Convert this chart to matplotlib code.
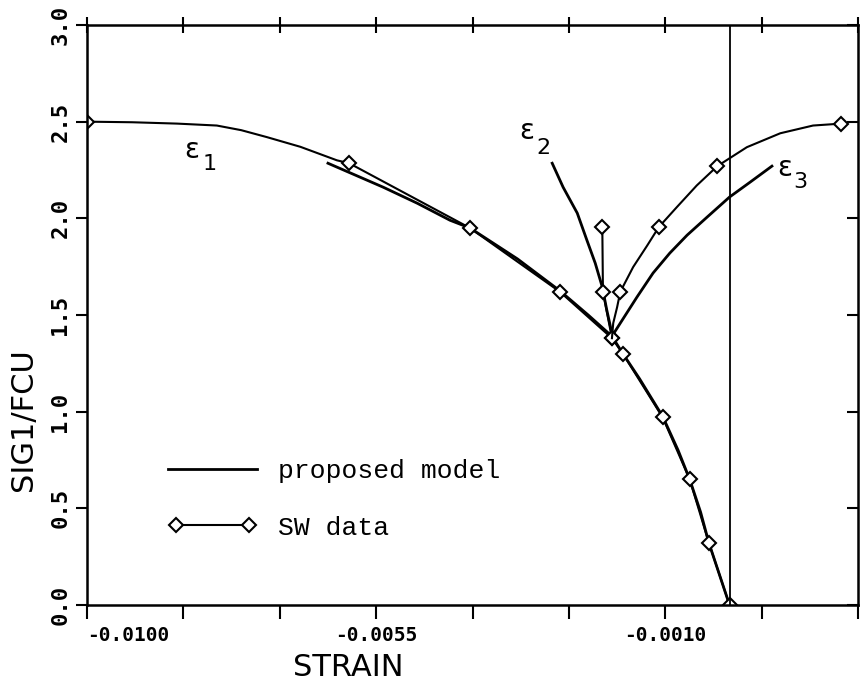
import matplotlib.pyplot as plt
from matplotlib.lines import Line2D
from matplotlib.legend_handler import HandlerLine2D

# SW test data, eps1 branch (curve points; diamonds at sw1_marks)
sw1_strain = [-0.0100, -0.00930, -0.00860, -0.00798, -0.00760, -0.00720, -0.00668,
              -0.00611, -0.00592, -0.00404, -0.00264, -0.00183, -0.00166,
              -0.00104, -0.00062, -0.00032, 0.0]
sw1_sig = [2.50, 2.497, 2.49, 2.48, 2.456, 2.42, 2.37,
           2.30, 2.285, 1.95, 1.62, 1.38, 1.30,
           0.97, 0.65, 0.32, 0.0]
sw1_marks = [0, 8, 9, 10, 11, 12, 13, 14, 15, 16]

# SW eps2 branch
sw2_strain = [-0.00183, -0.00197, -0.00198]
sw2_sig = [1.38, 1.62, 1.955]

# SW eps3 branch
sw3_strain = [-0.00183, -0.00181, -0.00175, -0.00170, -0.00150, -0.00128, -0.00110,
              -0.00082, -0.00051, -0.00019, 0.00027, 0.00079, 0.00130, 0.00174]
sw3_sig = [1.38, 1.458, 1.54, 1.62, 1.748, 1.86, 1.955,
           2.058, 2.17, 2.27, 2.368, 2.44, 2.48, 2.49]
sw3_marks = [3, 6, 9, 13]

# proposed model curves
m1_strain = [-0.00625, -0.00539, -0.00486, -0.00435, -0.00404, -0.00330, -0.00264,
             -0.00220, -0.00183, -0.00166, -0.00140, -0.00104, -0.00080, -0.00062,
             -0.00045, -0.00032, -0.00015, 0.0]
m1_sig = [2.285, 2.161, 2.078, 1.99, 1.95, 1.79, 1.625,
          1.50, 1.39, 1.30, 1.17, 0.975, 0.80, 0.65,
          0.48, 0.32, 0.15, 0.0]

m2_strain = [-0.00183, -0.00184, -0.00191, -0.00198, -0.00209, -0.00222, -0.00237,
             -0.00259, -0.00276]
m2_sig = [1.39, 1.42, 1.525, 1.644, 1.768, 1.887, 2.027, 2.161, 2.285]

m3_strain = [-0.00183, -0.00170, -0.00144, -0.00119, -0.00093, -0.00066, -0.00035,
             0.0, 0.00032, 0.00066]
m3_sig = [1.39, 1.458, 1.593, 1.717, 1.82, 1.913, 2.006, 2.11, 2.187, 2.27]

xticks = [-0.0100 + 0.0015 * i for i in range(9)]
xtick_labels = ["-0.0100", "", "", "-0.0055", "", "", "-0.0010", "", ""]
yticks = [0.0, 0.5, 1.0, 1.5, 2.0, 2.5, 3.0]

fig = plt.figure(figsize=(8.6, 6.85), dpi=100)
ax = fig.add_axes([0.1012, 0.1168, 0.8965, 0.8467])

lw_model = 2.0
lw_sw = 1.5
mk = dict(marker="D", markersize=7, mfc="white", mec="black", mew=1.5)

ax.plot(m1_strain, m1_sig, color="black", lw=lw_model)
ax.plot(m2_strain, m2_sig, color="black", lw=lw_model)
ax.plot(m3_strain, m3_sig, color="black", lw=lw_model)

ax.plot(sw1_strain, sw1_sig, color="black", lw=lw_sw, markevery=sw1_marks, **mk)
ax.plot(sw2_strain, sw2_sig, color="black", lw=lw_sw, **mk)
ax.plot(sw3_strain, sw3_sig, color="black", lw=lw_sw, markevery=sw3_marks, **mk)

# eps = 0 line
ax.axvline(0.0, color="black", lw=1.3)

# curve labels: (subscript, eps x, eps y, digit x, digit y)
eps_labels = [("1", -0.00837, 2.353, -0.00809, 2.28),
              ("2", -0.00315, 2.45, -0.00289, 2.365),
              ("3", 0.00086, 2.26, 0.00110, 2.19)]
for sub, ex, ey, sx, sy in eps_labels:
    ax.text(ex, ey, "ε", fontsize=20, ha="center", va="center", family="DejaVu Sans")
    ax.text(sx, sy, sub, fontsize=16, ha="center", va="center", family="DejaVu Sans")

ax.set_xlim(-0.0100, 0.0020)
ax.set_ylim(0.0, 3.0)
ax.set_xticks(xticks)
ax.set_xticklabels(xtick_labels, family="DejaVu Sans Mono", fontweight="bold", fontsize=14)
ax.set_yticks(yticks)
ax.set_yticklabels([f"{v:.1f}" for v in yticks], family="DejaVu Sans Mono",
                   fontweight="bold", fontsize=16, rotation=90, va="center")
ax.get_xticklabels()[0].set_ha("left")

ax.tick_params(axis="x", bottom=True, top=True, direction="out", length=10, width=1.5, pad=5)
ax.tick_params(axis="y", left=True, right=True, direction="out", length=8, width=1.5, pad=4)
for t in ax.xaxis.get_major_ticks():
    t.tick2line.set_marker("|")
    t.tick2line.set_markersize(12)
for t in ax.yaxis.get_major_ticks():
    t.tick2line.set_marker(0)
    t.tick2line.set_markersize(8)
for s in ax.spines.values():
    s.set_linewidth(1.8)

ax.set_xlabel("STRAIN", fontsize=22, family="DejaVu Sans", va="center")
ax.xaxis.set_label_coords(0.3385, -0.108)
ax.set_ylabel("SIG1/FCU", fontsize=22, family="DejaVu Sans", va="center")
ax.yaxis.set_label_coords(-0.083, 0.319)

h_model = Line2D([], [], color="black", lw=lw_model)
h_sw = Line2D([], [], color="black", lw=lw_sw, **mk)
ax.legend([h_model, h_sw], ["proposed model", "SW data"], loc="center left",
          bbox_to_anchor=(0.105, 0.182), frameon=False, numpoints=2,
          handlelength=3.37, handletextpad=0.8, labelspacing=1.23, borderpad=0,
          borderaxespad=0, prop={"family": "Liberation Mono", "size": 19},
          handler_map={h_model: HandlerLine2D(marker_pad=0)})

fig.savefig("out.png", dpi=100)
